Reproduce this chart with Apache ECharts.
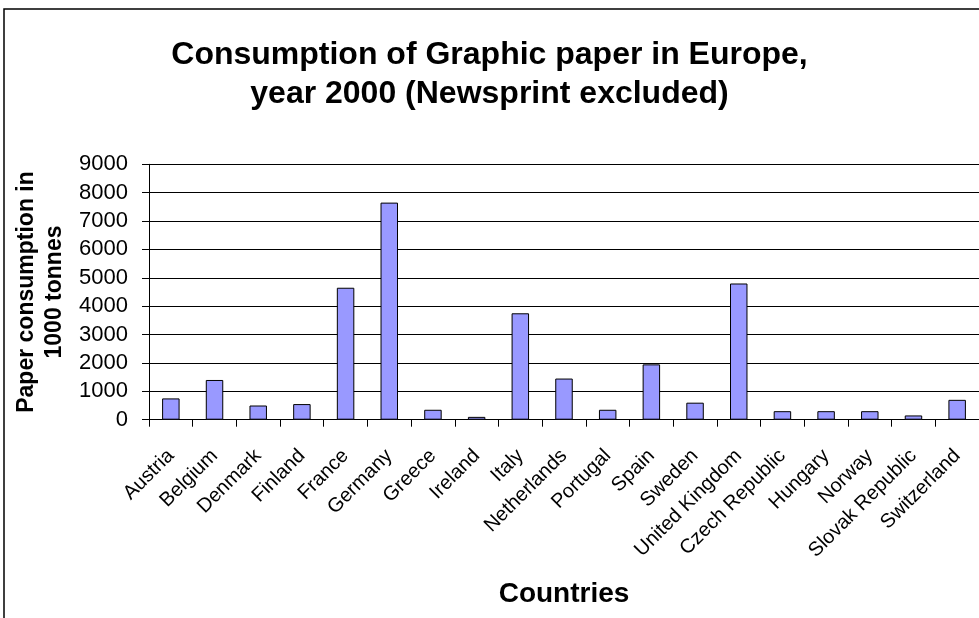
<!DOCTYPE html>
<html>
<head>
<meta charset="utf-8">
<script src="https://cdn.jsdelivr.net/npm/echarts@6/dist/echarts.min.js"></script>
<style>html,body{margin:0;padding:0;background:#fff}#c{width:979px;height:618px}</style>
</head>
<body>
<div id="c"></div>
<script>
const categories = ["Austria","Belgium","Denmark","Finland","France","Germany","Greece","Ireland","Italy","Netherlands","Portugal","Spain","Sweden","United Kingdom","Czech Republic","Hungary","Norway","Slovak Republic","Switzerland"];
const consumption = [750,1400,500,550,4650,7650,350,100,3750,1450,350,1950,600,4800,300,300,300,150,700];
const yTicks = [0,1000,2000,3000,4000,5000,6000,7000,8000,9000];
const titleText = "Consumption of Graphic paper in Europe,\nyear 2000 (Newsprint excluded)";
const yName = "Paper consumption in\n1000 tonnes";
const xName = "Countries";

const chart = echarts.init(document.getElementById('c'), null, {renderer:'canvas'});
const FONT = '"Liberation Sans", Arial, sans-serif';
chart.setOption({
  animation: false,
  backgroundColor: '#fff',
  graphic: [{
    type: 'rect', shape: {x: 4, y: 9, width: 1100, height: 800},
    style: {fill: 'none', stroke: '#000', lineWidth: 1.5}, silent: true, z: 0
  }],
  title: {
    text: titleText, left: 'center', top: 31,
    textStyle: {fontFamily: FONT, fontWeight: 'bold', fontSize: 32, color: '#000', lineHeight: 39}
  },
  grid: {left: 149, right: -12, top: 164.3, bottom: 618 - 419.7, containLabel: false},
  xAxis: {
    type: 'category', data: categories,
    name: xName, nameLocation: 'middle', nameGap: 161,
    nameTextStyle: {fontFamily: FONT, fontWeight: 'bold', fontSize: 28, color: '#000'},
    axisLine: {lineStyle: {color: '#000', width: 1}},
    axisTick: {show: true, length: 7, lineStyle: {color: '#000'}},
    axisLabel: {rotate: 45, interval: 0, margin: 33, fontFamily: FONT, fontSize: 20, color: '#000'}
  },
  yAxis: {
    type: 'value', min: 0, max: 9000, interval: 1000,
    name: yName, nameLocation: 'middle', nameGap: 80, nameRotate: 90,
    nameTextStyle: {fontFamily: FONT, fontWeight: 'bold', fontSize: 23, color: '#000', lineHeight: 28},
    axisLine: {show: true, lineStyle: {color: '#000', width: 1}},
    axisTick: {show: true, length: 7, lineStyle: {color: '#000'}},
    splitLine: {show: true, lineStyle: {color: '#000', width: 1}},
    axisLabel: {margin: 21, fontFamily: FONT, fontSize: 22, color: '#000',
      formatter: v => yTicks.includes(v) ? String(v) : ''}
  },
  series: [{
    type: 'bar', data: consumption, barWidth: '40%',
    itemStyle: {color: '#9999FF', borderColor: '#000', borderWidth: 1}
  }]
});
</script>
</body>
</html>
